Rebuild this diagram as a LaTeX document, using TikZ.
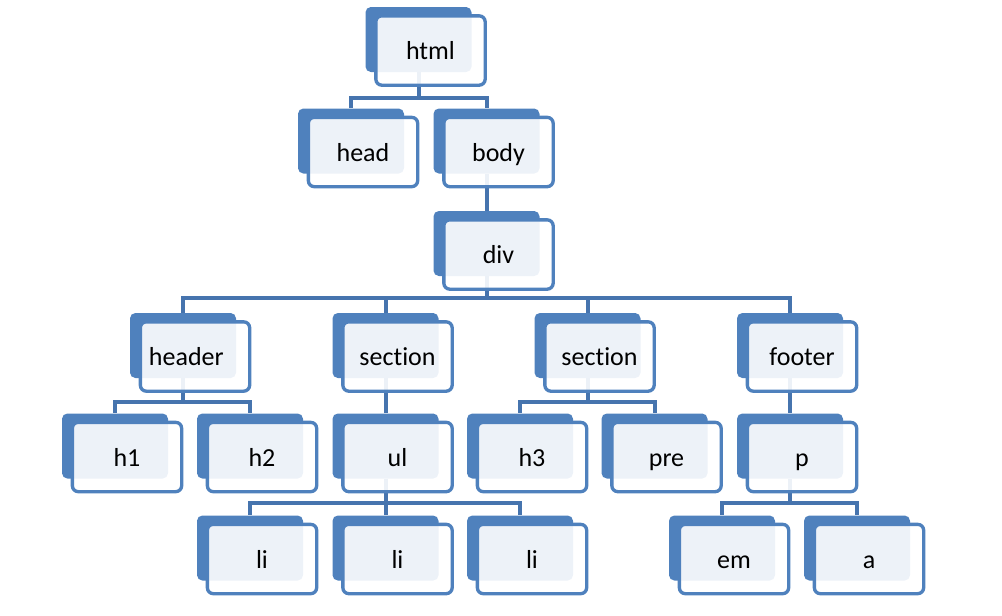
\documentclass[tikz,border=0pt]{standalone}
\usepackage{fontspec}
\setmainfont[Ligatures=NoCommon]{Carlito}
\usepackage{tikz}
\usetikzlibrary{positioning,backgrounds}
\definecolor{tagBlue}{HTML}{4F81BD}
\definecolor{linkBlue}{HTML}{4674AE}
\tikzset{tagback/.style={fill=tagBlue,rounded corners=4pt,minimum width=79.5pt,minimum height=48.75pt,inner sep=0pt},
  tagfront/.style={draw=tagBlue,line width=2.5pt,fill=white,fill opacity=.9,text opacity=1,rounded corners=4.5pt,
    minimum width=82pt,minimum height=52pt,inner sep=0pt,text height=15.5pt,text depth=2pt,
    font=\fontsize{19.5}{22}\selectfont},
  link/.style={linkBlue,line width=3pt}}
% back box at (x,y), front box with the text over it
\newcommand{\domtag}[4]{%
  \node[tagback] (#1b) at (#2,#3) {};
  \node[tagfront] (#1) at (#2+12,#3+11) {#4};}

\begin{document}
\begin{tikzpicture}[x=0.75pt,y=-0.75pt]
    \useasboundingbox (0,0) rectangle (1002,615);

    \domtag{html}{418.5}{39.5}{html}
    \domtag{head}{351}{141}{head}
    \domtag{body}{486.5}{141}{body}
    \domtag{div}{486.5}{243.5}{div}

    \domtag{header}{183}{345.5}{header\hspace*{13pt}}
    \domtag{secA}{385.5}{345.5}{section}
    \domtag{secB}{587.5}{345.5}{section}
    \domtag{footer}{790}{345.5}{footer}

    \domtag{hA}{115}{446}{h1}
    \domtag{hB}{250}{446}{h2}
    \domtag{ul}{385.5}{446}{ul}
    \domtag{hC}{520}{446}{h3}
    \domtag{pre}{654.5}{446}{pre}
    \domtag{p}{790}{446}{p}

    \domtag{liA}{250}{548}{li}
    \domtag{liB}{385.5}{548}{li}
    \domtag{liC}{520}{548}{li}
    \domtag{em}{722}{548}{em}
    \domtag{a}{857}{548}{a}

    \begin{scope}[on background layer]
    \draw[link] (htmlb.south) -- (htmlb.south |- 0,98) -| (headb.north);
    \draw[link] (htmlb.south) -- (htmlb.south |- 0,98) -| (bodyb.north);
    \draw[link] (bodyb.south) -- (divb.north);
    \foreach \kid in {headerb,secAb,secBb,footerb}
      \draw[link] (divb.south) -- (divb.south |- 0,298) -| (\kid.north);
    \foreach \kid in {hAb,hBb}
      \draw[link] (headerb.south) -- (headerb.south |- 0,402) -| (\kid.north);
    \draw[link] (secAb.south) -- (ulb.north);
    \foreach \kid in {hCb,preb}
      \draw[link] (secBb.south) -- (secBb.south |- 0,402) -| (\kid.north);
    \draw[link] (footerb.south) -- (pb.north);
    \foreach \kid in {liAb,liBb,liCb}
      \draw[link] (ulb.south) -- (ulb.south |- 0,503) -| (\kid.north);
    \foreach \kid in {emb,ab}
      \draw[link] (pb.south) -- (pb.south |- 0,503) -| (\kid.north);
    \end{scope}
\end{tikzpicture}
\end{document}
